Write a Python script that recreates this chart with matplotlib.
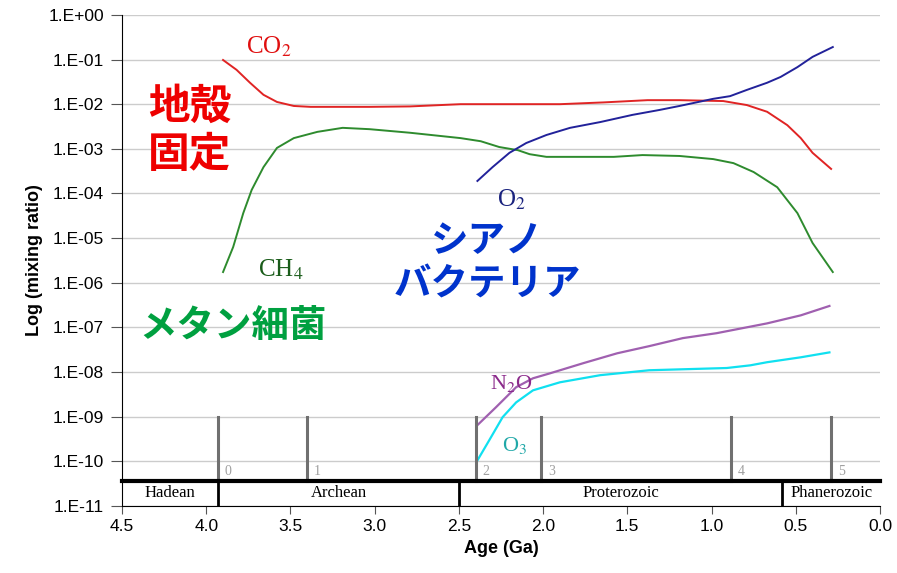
import numpy as np
import matplotlib.pyplot as plt
from matplotlib.ticker import FixedLocator, FixedFormatter

plt.rcParams['font.family'] = ['Liberation Sans', 'DejaVu Sans']
plt.rcParams['mathtext.fontset'] = 'stix'

# data (age in Ga, log10 mixing ratio)
co2_age = [3.90, 3.82, 3.74, 3.66, 3.58, 3.48, 3.38, 3.03, 2.79, 2.49, 1.90, 1.64, 1.38, 1.19,
           0.93, 0.79, 0.67, 0.55, 0.47, 0.40, 0.29]
co2_log = [-1.01, -1.23, -1.52, -1.79, -1.95, -2.04, -2.06, -2.06, -2.05, -2.00, -2.00, -1.96, -1.91, -1.91,
           -1.93, -2.02, -2.17, -2.47, -2.76, -3.09, -3.45]

ch4_age = [3.90, 3.84, 3.78, 3.73, 3.66, 3.58, 3.48, 3.34, 3.19, 3.03, 2.79, 2.49, 2.37, 2.26, 2.15,
           2.08, 1.98, 1.58, 1.41, 1.19, 0.99, 0.87, 0.75, 0.61, 0.49, 0.40, 0.28]
ch4_log = [-5.76, -5.20, -4.44, -3.92, -3.41, -2.98, -2.76, -2.62, -2.53, -2.56, -2.64, -2.76, -2.83, -2.96, -3.03,
           -3.12, -3.18, -3.18, -3.14, -3.16, -3.23, -3.32, -3.52, -3.86, -4.44, -5.11, -5.76]

o2_age = [2.39, 2.30, 2.20, 2.10, 1.98, 1.84, 1.66, 1.47, 1.31, 1.19, 0.99, 0.89, 0.79, 0.67, 0.59, 0.49, 0.40, 0.28]
o2_log = [-3.72, -3.41, -3.09, -2.87, -2.69, -2.53, -2.40, -2.24, -2.13, -2.04, -1.88, -1.82, -1.68, -1.52, -1.39,
          -1.17, -0.94, -0.72]

n2o_age = [2.39, 2.28, 2.16, 2.06, 1.96, 1.76, 1.56, 1.37, 1.17, 0.97, 0.67, 0.47, 0.30]
n2o_log = [-9.19, -8.79, -8.34, -8.14, -8.03, -7.80, -7.58, -7.42, -7.24, -7.13, -6.91, -6.73, -6.52]

o3_age = [2.39, 2.32, 2.24, 2.16, 2.06, 1.90, 1.66, 1.37, 0.91, 0.77, 0.67, 0.47, 0.30]
o3_log = [-9.98, -9.53, -9.01, -8.68, -8.41, -8.23, -8.07, -7.96, -7.91, -7.85, -7.78, -7.67, -7.56]

# eons and marker lines
eon_names = ['Hadean', 'Archean', 'Proterozoic', 'Phanerozoic']
eon_edges = [4.5, 3.93, 2.50, 0.58, 0.0]
stage_ages = [3.93, 3.40, 2.40, 2.01, 0.885, 0.29]
stage_labels = ['0', '1', '2', '3', '4', '5']

y_ticks = [10.0 ** -k for k in range(12)]
y_labels = ['1.E+00'] + ['1.E-%02d' % k for k in range(1, 12)]

fig = plt.figure(figsize=(8.97, 5.73), dpi=100)
ax = fig.add_axes([0.136, 0.117, 0.845, 0.857])
ax.set_yscale('log')
ax.set_ylim(1e-11, 1)
ax.set_xlim(4.5, 0)

for k in range(12):
    ax.axhline(y_ticks[k], color='#cccccc', lw=1, zorder=0)

def lin(a, l):
    return np.array(a), 10.0 ** np.array(l)

ax.plot(*lin(co2_age, co2_log), color='#e02424', lw=1.4)
ax.plot(*lin(ch4_age, ch4_log), color='#2e8b2e', lw=1.4)
ax.plot(*lin(o2_age, o2_log), color='#22229a', lw=1.4)
ax.plot(*lin(n2o_age, n2o_log), color='#a060b0', lw=1.6)
ax.plot(*lin(o3_age, o3_log), color='#10e0f0', lw=1.6)

# eon bar
bar_top = 10 ** -10.43
ax.plot([4.5, 0], [bar_top, bar_top], color='black', lw=3, zorder=5, clip_on=False)
for e in eon_edges[1:-1]:
    ax.plot([e, e], [1e-11, bar_top], color='black', lw=2, zorder=5)
for i, name in enumerate(eon_names):
    mid = (eon_edges[i] + eon_edges[i + 1]) / 2
    ax.text(mid, 10 ** -10.72, name, family='Liberation Serif', fontsize=12,
            ha='center', va='center')

# stage lines
for a, s in zip(stage_ages, stage_labels):
    ax.plot([a, a], [bar_top, 1e-9], color='#707070', lw=2.2, zorder=4)
    ax.text(a - 0.04, 10 ** -10.22, s, family='Liberation Serif', fontsize=10,
            color='#a0a0a0', ha='left', va='center')

# gas labels
serif = 'Liberation Serif'
ax.text(3.63, 10 ** -0.72, 'CO$_2$', color='#e01010', fontsize=18, family=serif, ha='center', va='center')
ax.text(3.56, 10 ** -5.7, 'CH$_4$', color='#1a5c1a', fontsize=18, family=serif, ha='center', va='center')
ax.text(2.19, 10 ** -4.15, 'O$_2$', color='#1a237e', fontsize=18, family=serif, ha='center', va='center')
ax.text(2.19, 10 ** -8.25, 'N$_2$O', color='#8b2a8b', fontsize=16, family=serif, ha='center', va='center')
ax.text(2.17, 10 ** -9.65, 'O$_3$', color='#20a8a8', fontsize=16, family=serif, ha='center', va='center')

# japanese labels
jp = ['Noto Sans CJK JP', 'DejaVu Sans']
ax.text(4.1, 10 ** -2.6, '地殻\n固定', color='#ee0000', fontsize=30, fontweight='bold',
        family=jp, ha='center', va='center', linespacing=1.2)
ax.text(2.33, 10 ** -5.55, 'シアノ\nバクテリア', color='#0033cc', fontsize=27, fontweight='bold',
        family=jp, ha='center', va='center', linespacing=1.15)
ax.text(3.84, 10 ** -6.95, 'メタン細菌', color='#00a040', fontsize=27, fontweight='bold',
        family=jp, ha='center', va='center')

ax.yaxis.set_major_locator(FixedLocator(y_ticks))
ax.yaxis.set_major_formatter(FixedFormatter(y_labels))
ax.yaxis.set_minor_locator(FixedLocator([]))
ax.set_xticks(np.arange(0, 4.51, 0.5))
ax.set_xticklabels(['%.1f' % v for v in np.arange(0, 4.51, 0.5)])
ax.tick_params(labelsize=12.5, length=6, color='#555555')
ax.tick_params(axis='y', length=8, pad=5)

for s in ['top', 'right']:
    ax.spines[s].set_visible(False)

ax.set_xlabel('Age (Ga)', fontsize=13, fontweight='bold')
ax.set_ylabel('Log (mixing ratio)', fontsize=13, fontweight='bold')

fig.savefig('out.png', dpi=100)
